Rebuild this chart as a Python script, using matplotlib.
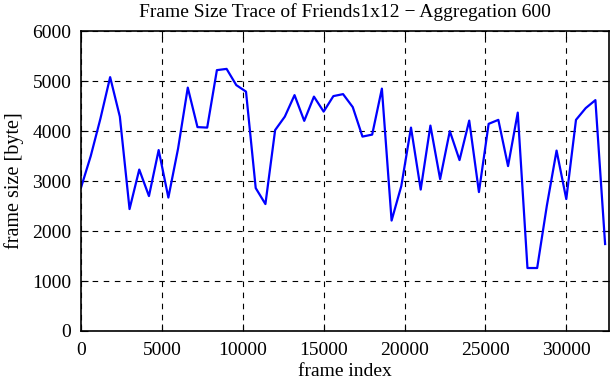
import matplotlib
matplotlib.use("Agg")
import matplotlib.pyplot as plt

plt.rcParams["font.family"] = ["Liberation Serif", "DejaVu Serif"]

# aggregated frame sizes, one value per 600 frames
step = 600
sizes = [2870, 3500, 4250, 5080, 4290, 2440, 3230, 2700, 3620, 2670,
         3650, 4870, 4080, 4070, 5220, 5245, 4920, 4790, 2860, 2540,
         4020, 4290, 4720, 4205, 4690, 4390, 4700, 4740, 4480, 3890,
         3930, 4850, 2210, 2900, 4070, 2830, 4110, 3040, 4000, 3420,
         4210, 2780, 4145, 4225, 3300, 4370, 1260, 1260, 2510, 3610,
         2640, 4225, 4460, 4620, 1740]
frames = [i * step for i in range(len(sizes))]

fig = plt.figure(figsize=(6.11, 3.80), dpi=100)
ax = fig.add_axes([0.1326, 0.129, 0.8641, 0.789])

ax.plot(frames, sizes, color="#0000ff", linewidth=1.6)

ax.set_xlim(0, 32640)
ax.set_ylim(0, 6000)
ax.set_xticks(range(0, 32640, 5000))
ax.set_yticks(range(0, 6001, 1000))
ax.grid(True, color="black", linestyle=(0, (5, 5)), linewidth=0.8)
ax.tick_params(direction="in", top=True, right=True, labelsize=14, length=5)
ax.tick_params(axis="x", pad=8)
ax.tick_params(axis="y", pad=7)
for s in ax.spines.values():
    s.set_linewidth(1.2)

ax.set_title("Frame Size Trace of Friends1x12 \u2212 Aggregation 600", fontsize=14, pad=10)
ax.set_xlabel("frame index", fontsize=14, labelpad=3)
ax.set_ylabel("frame size [byte]", fontsize=14.5, labelpad=6)

fig.savefig("out.png", dpi=100)
